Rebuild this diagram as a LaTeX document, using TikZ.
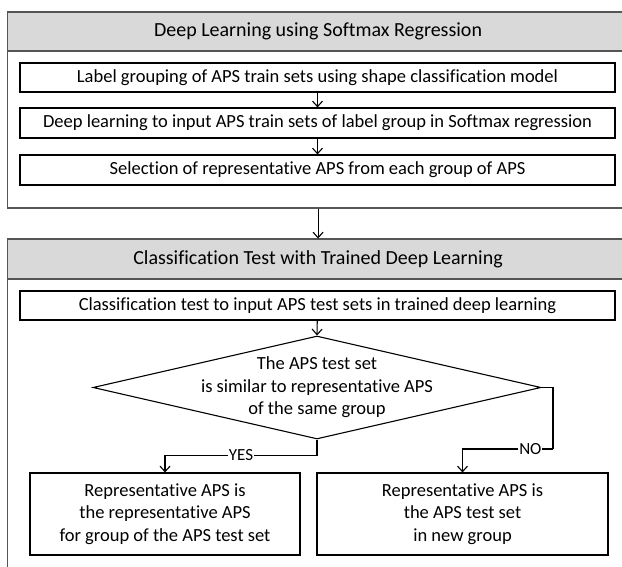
\documentclass[tikz,border=0pt]{standalone}
\usepackage{fontspec}
\setmainfont{Carlito}[Ligatures=NoCommon]
\usetikzlibrary{arrows.meta,shapes.geometric}
\definecolor{panelgray}{HTML}{555555}
\definecolor{headgray}{HTML}{D9D9D9}
\begin{document}
\begin{tikzpicture}[x=1pt,y=-1pt,
  every node/.style={font=\fontsize{18.5}{22.5}\selectfont, inner sep=0pt, align=center},
  box/.style={draw=black, line width=1.1pt, rectangle, fill=white},
  panel/.style={draw=panelgray, line width=1.6pt, rectangle},
  header/.style={draw=panelgray, line width=1.6pt, rectangle, fill=headgray, font=\fontsize{20}{24}\selectfont},
  arr/.style={-{Straight Barb[length=5.5pt,width=10pt]}, line width=1.1pt},
  lbl/.style={fill=white, inner xsep=1pt, inner ysep=1pt, font=\fontsize{17}{20}\selectfont}]
\path[use as bounding box] (0,0) rectangle (622,567);
\clip (0,0) rectangle (622,567);

% panel 1
\node[panel, anchor=north west, minimum width=621.5pt, minimum height=196pt] (p1) at (6.5,11) {};
\node[header, anchor=north west, minimum width=621.5pt, minimum height=39pt] (h1) at (6.5,11) {Deep Learning using Softmax Regression};
\node[box, minimum width=595pt, minimum height=29pt] (b1) at (317.5,77.5) {Label grouping of APS train sets using shape classification model};
\node[box, minimum width=595pt, minimum height=30pt] (b2) at (317.5,123) {Deep learning to input APS train sets of label group in Softmax regression};
\node[box, minimum width=595pt, minimum height=30pt] (b3) at (317.5,170) {Selection of representative APS from each group of APS};
\draw[arr] (b1) -- (b2);
\draw[arr] (b2) -- (b3);

% panel 2
\node[panel, anchor=north west, minimum width=621.5pt, minimum height=380pt] (p2) at (6.5,238.5) {};
\node[header, anchor=north west, minimum width=621.5pt, minimum height=40pt] (h2) at (6.5,238.5) {Classification Test with Trained Deep Learning};
\draw[arr] (p1.south) -- (p2.north);

\node[box, minimum width=595pt, minimum height=29pt] (b4) at (317.5,305.5) {Classification test to input APS test sets in trained deep learning};
\node[draw=black, line width=1.1pt, diamond, minimum width=448pt, minimum height=103pt] (d) at (317,387.5) {};
\node (dt) at (d.center) {The APS test set\\is similar to representative APS\\of the same group};
\draw[arr] (b4) -- (d.north);

\node[box, minimum width=270pt, minimum height=82pt] (lb) at (165,514) {Representative APS is\\the representative APS\\for group of the APS test set};
\node[box, minimum width=291pt, minimum height=82pt] (rb) at (462.5,514) {Representative APS is\\the APS test set\\in new group};

\coordinate (yc) at (317,455.5);
\coordinate (nc) at (553,449);
\draw[arr] (d.south) -- (yc) -| (lb.north) node[lbl, pos=0.25] {YES};
\draw[line width=1.1pt] (d.east) -| (nc);
\draw[arr] (nc) -| (rb.north) node[lbl, pos=0.125] {NO};
\end{tikzpicture}
\end{document}
